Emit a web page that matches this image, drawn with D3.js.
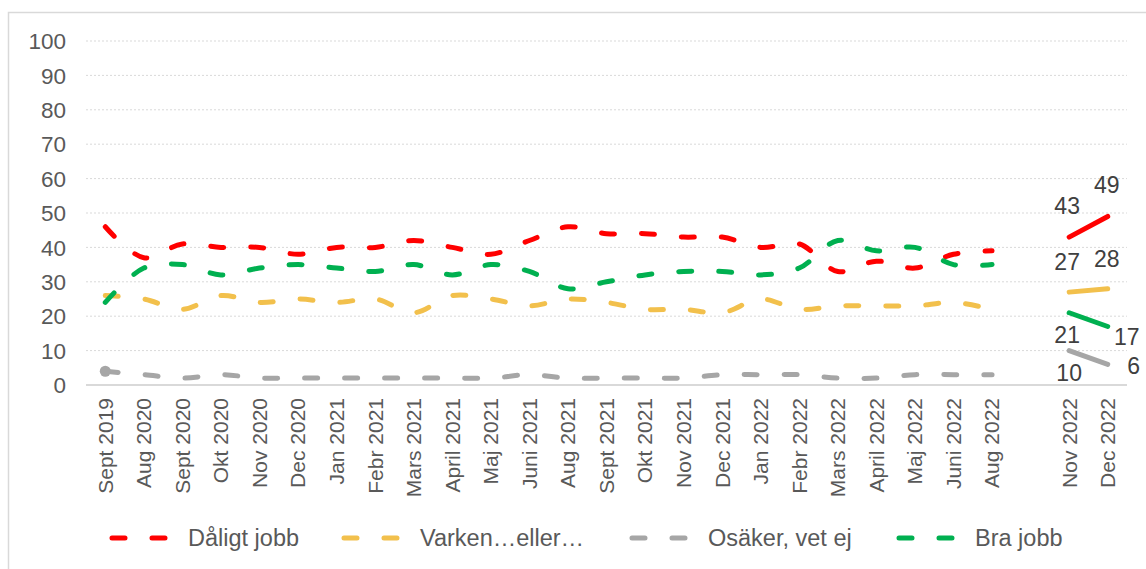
<!DOCTYPE html>
<html>
<head>
<meta charset="utf-8">
<script src="https://cdn.jsdelivr.net/npm/d3@7"></script>
<style>
  body { margin: 0; background: #fff; }
  svg { display: block; font-family: "Liberation Sans", Arial, sans-serif; }
</style>
</head>
<body>
<svg id="chart"></svg>
<script>
// categories (blank slot between Aug 2022 and Nov 2022)
const categories = ['Sept 2019', 'Aug 2020', 'Sept 2020', 'Okt 2020', 'Nov 2020', 'Dec 2020',
  'Jan 2021', 'Febr 2021', 'Mars 2021', 'April 2021', 'Maj 2021', 'Juni 2021', 'Aug 2021',
  'Sept 2021', 'Okt 2021', 'Nov 2021', 'Dec 2021', 'Jan 2022', 'Febr 2022', 'Mars 2022',
  'April 2022', 'Maj 2022', 'Juni 2022', 'Aug 2022', '', 'Nov 2022', 'Dec 2022']

// dashed series, Sept 2019 - Aug 2022
const daligt = [46, 37, 41, 40, 40, 38, 40, 40, 42, 40, 38, 42, 46, 44, 44, 43, 43, 40, 41, 33, 36, 34, 38, 39]
const varken = [26, 25, 22, 26, 24, 25, 24, 25, 21, 26, 25, 23, 25, 24, 22, 22, 21, 25, 22, 23, 23, 23, 24, 22]
const osaker = [4, 3, 2, 3, 2, 2, 2, 2, 2, 2, 2, 3, 2, 2, 2, 2, 3, 3, 3, 2, 2, 3, 3, 3]
const bra = [24, 34, 35, 32, 34, 35, 34, 33, 35, 32, 35, 33, 28, 30, 32, 33, 33, 32, 34, 42, 39, 40, 35, 35]

// solid series, Nov 2022 - Dec 2022
const newMonths = ['Nov 2022', 'Dec 2022']
const daligtNew = [43, 49]
const varkenNew = [27, 28]
const osakerNew = [10, 6]
const braNew = [21, 17]

const yTicks = [0, 10, 20, 30, 40, 50, 60, 70, 80, 90, 100]

// label offsets (dx, dy) relative to each point, Nov then Dec
const series = [
  { name: 'Dåligt jobb', color: '#ff0000', old: daligt, now: daligtNew, off: [[-2, -23], [-1, -23]] },
  { name: 'Varken…eller…', color: '#f2c04c', old: varken, now: varkenNew, off: [[-2, -22], [-1, -22]] },
  { name: 'Osäker, vet ej', color: '#a6a6a6', old: osaker, now: osakerNew, off: [[0, 30], [26, 10]] },
  { name: 'Bra jobb', color: '#00b050', old: bra, now: braNew, off: [[-2, 30], [19, 18]] }
]

var width = 1146
var height = 569
var margin = { left: 86, right: 19, top: 41, bottom: 184 }

var svg = d3.select('#chart').attr('width', width).attr('height', height)

// outer chart border
svg.append('rect')
  .attr('x', 8.5).attr('y', 12.5)
  .attr('width', width).attr('height', height)
  .attr('fill', 'none').attr('stroke', '#d9d9d9').attr('stroke-width', 1.5)

var x = d3.scaleBand()
  .domain(categories.map((d, i) => i))
  .range([margin.left, width - margin.right])

var y = d3.scaleLinear()
  .domain([0, 100])
  .range([height - margin.bottom, margin.top])

var cx = (i) => x(i) + x.bandwidth() / 2

// gridlines
svg.append('g')
  .selectAll('line')
  .data(yTicks.filter((d) => d > 0))
  .join('line')
  .attr('x1', margin.left).attr('x2', width - margin.right)
  .attr('y1', (d) => y(d)).attr('y2', (d) => y(d))
  .attr('stroke', '#d9d9d9').attr('stroke-width', 1)
  .attr('stroke-dasharray', '2,2')

// y axis labels
svg.append('g')
  .attr('font-size', 22.5)
  .attr('fill', '#595959')
  .attr('text-anchor', 'end')
  .selectAll('text')
  .data(yTicks)
  .join('text')
  .attr('x', 66)
  .attr('y', (d) => y(d))
  .attr('dy', '0.36em')
  .text((d) => d)

// x axis line
svg.append('line')
  .attr('x1', margin.left).attr('x2', width - margin.right)
  .attr('y1', y(0)).attr('y2', y(0))
  .attr('stroke', '#d9d9d9').attr('stroke-width', 2)

// x axis labels
svg.append('g')
  .attr('font-size', 21)
  .attr('fill', '#595959')
  .attr('text-anchor', 'end')
  .selectAll('text')
  .data(categories)
  .join('text')
  .attr('transform', (d, i) => `translate(${cx(i)},${y(0) + 13}) rotate(-90)`)
  .attr('dy', '0.35em')
  .text((d) => d)

var line = d3.line()
  .defined((d) => d != null)
  .x((d, i) => cx(i))
  .y((d) => y(d))
  .curve(d3.curveCatmullRom.alpha(0.5))

// dashed lines
svg.append('g')
  .selectAll('path')
  .data(series)
  .join('path')
  .attr('d', (s) => line(s.old))
  .attr('fill', 'none')
  .attr('stroke', (s) => s.color)
  .attr('stroke-width', 5)
  .attr('stroke-linecap', 'round')
  .attr('stroke-dasharray', '13,27')

// marker on first grey point
svg.append('circle')
  .attr('cx', cx(0)).attr('cy', y(osaker[0]))
  .attr('r', 5.5).attr('fill', '#a6a6a6')

// solid lines for latest months
var offset = categories.indexOf(newMonths[0])
var line2 = d3.line()
  .x((d, i) => cx(offset + i))
  .y((d) => y(d))

svg.append('g')
  .selectAll('path')
  .data(series)
  .join('path')
  .attr('d', (s) => line2(s.now))
  .attr('fill', 'none')
  .attr('stroke', (s) => s.color)
  .attr('stroke-width', 5)
  .attr('stroke-linecap', 'round')

// data labels
var labels = []
series.forEach((s) => {
  s.now.forEach((v, i) => labels.push({ v: v, i: offset + i, off: s.off[i] }))
})

svg.append('g')
  .attr('font-size', 23)
  .attr('fill', '#404040')
  .attr('text-anchor', 'middle')
  .selectAll('text')
  .data(labels)
  .join('text')
  .attr('x', (d) => cx(d.i) + d.off[0])
  .attr('y', (d) => y(d.v) + d.off[1])
  .text((d) => d.v)

// legend
var legendX = [112, 344, 632, 899]
var legend = svg.append('g')
  .selectAll('g')
  .data(series)
  .join('g')
  .attr('transform', (d, i) => `translate(${legendX[i]},538)`)

legend.append('line')
  .attr('x1', 0).attr('x2', 56)
  .attr('stroke', (d) => d.color)
  .attr('stroke-width', 5)
  .attr('stroke-linecap', 'round')
  .attr('stroke-dasharray', '13,27')

legend.append('text')
  .attr('x', 76)
  .attr('dy', '0.36em')
  .attr('font-size', 23.5)
  .attr('fill', '#595959')
  .text((d) => d.name)
</script>
</body>
</html>
